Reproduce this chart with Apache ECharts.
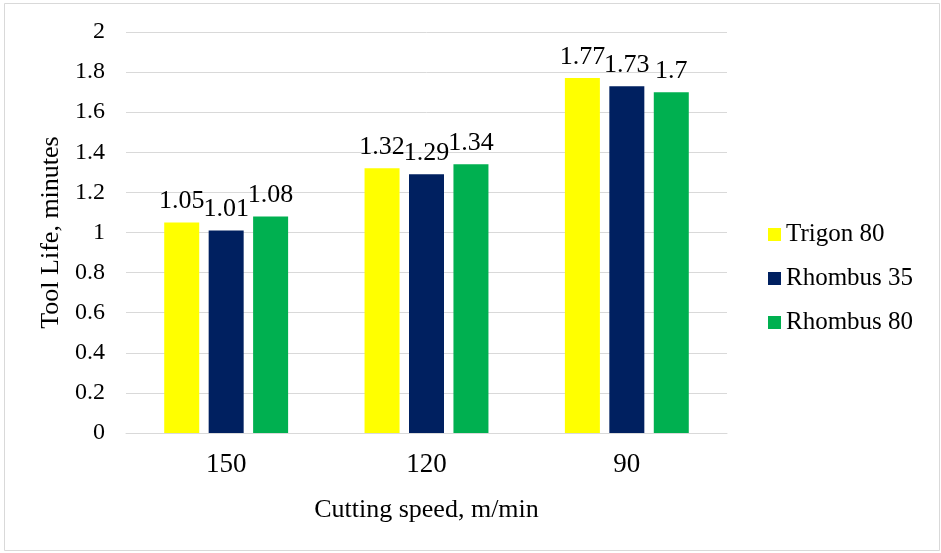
<!DOCTYPE html>
<html>
<head>
<meta charset="utf-8">
<style>
  html, body { margin: 0; padding: 0; background: #ffffff; }
  #chart { width: 941px; height: 553px; }
</style>
<script src="https://cdn.jsdelivr.net/npm/echarts@6/dist/echarts.min.js"></script>
</head>
<body>
<div id="chart"></div>
<script>
// Cutting speeds (m/min) along the category axis
const speeds = ['150', '120', '90'];

// Tool life in minutes for each insert geometry
const trigon80 = [1.05, 1.32, 1.77];
const rhombus35 = [1.01, 1.29, 1.73];
const rhombus80 = [1.08, 1.34, 1.70];

const seriesNames = ['Trigon 80', 'Rhombus 35', 'Rhombus 80'];
const seriesColors = ['#FFFF00', '#002060', '#00B050'];

const FONT = '"Liberation Serif", "Times New Roman", serif';

const chart = echarts.init(document.getElementById('chart'), null, { renderer: 'canvas' });

function barSeries(name, values, color) {
  return {
    name: name,
    type: 'bar',
    data: values,
    barWidth: 35,
    barGap: '27%',
    itemStyle: { color: color },
    label: {
      show: true,
      position: 'top',
      distance: 8,
      color: '#000000',
      fontFamily: FONT,
      fontSize: 26
    }
  };
}

chart.setOption({
  animation: false,
  backgroundColor: '#ffffff',
  textStyle: { fontFamily: FONT },
  graphic: [{
    type: 'rect',
    shape: { x: 4.5, y: 3.5, width: 935, height: 547 },
    style: { fill: 'none', stroke: '#D9D9D9', lineWidth: 1 },
    silent: true
  }],
  legend: {
    orient: 'vertical',
    left: 768,
    top: 222,
    padding: 0,
    itemWidth: 13,
    itemHeight: 13,
    itemGap: 19,
    icon: 'rect',
    textStyle: { fontFamily: FONT, fontSize: 25, color: '#000000', lineHeight: 25 },
    data: seriesNames
  },
  grid: { left: 126, right: 214, top: 32, bottom: 120 },
  xAxis: {
    type: 'category',
    data: speeds,
    name: 'Cutting speed, m/min',
    nameLocation: 'middle',
    nameGap: 64,
    nameTextStyle: { fontFamily: FONT, fontSize: 26, color: '#000000' },
    axisLine: { show: true, lineStyle: { color: '#D9D9D9', width: 1 } },
    axisTick: { show: false },
    axisLabel: { fontFamily: FONT, fontSize: 27, color: '#000000', margin: 18 }
  },
  yAxis: {
    type: 'value',
    min: 0,
    max: 2,
    interval: 0.2,
    name: 'Tool Life, minutes',
    nameLocation: 'middle',
    nameGap: 62,
    nameRotate: 90,
    nameTextStyle: { fontFamily: FONT, fontSize: 26, color: '#000000' },
    axisLine: { show: false },
    axisTick: { show: false },
    splitLine: { lineStyle: { color: '#D9D9D9', width: 1 } },
    axisLabel: { fontFamily: FONT, fontSize: 24, color: '#000000', margin: 21 }
  },
  series: [
    barSeries(seriesNames[0], trigon80, seriesColors[0]),
    barSeries(seriesNames[1], rhombus35, seriesColors[1]),
    barSeries(seriesNames[2], rhombus80, seriesColors[2])
  ]
});
</script>
</body>
</html>
